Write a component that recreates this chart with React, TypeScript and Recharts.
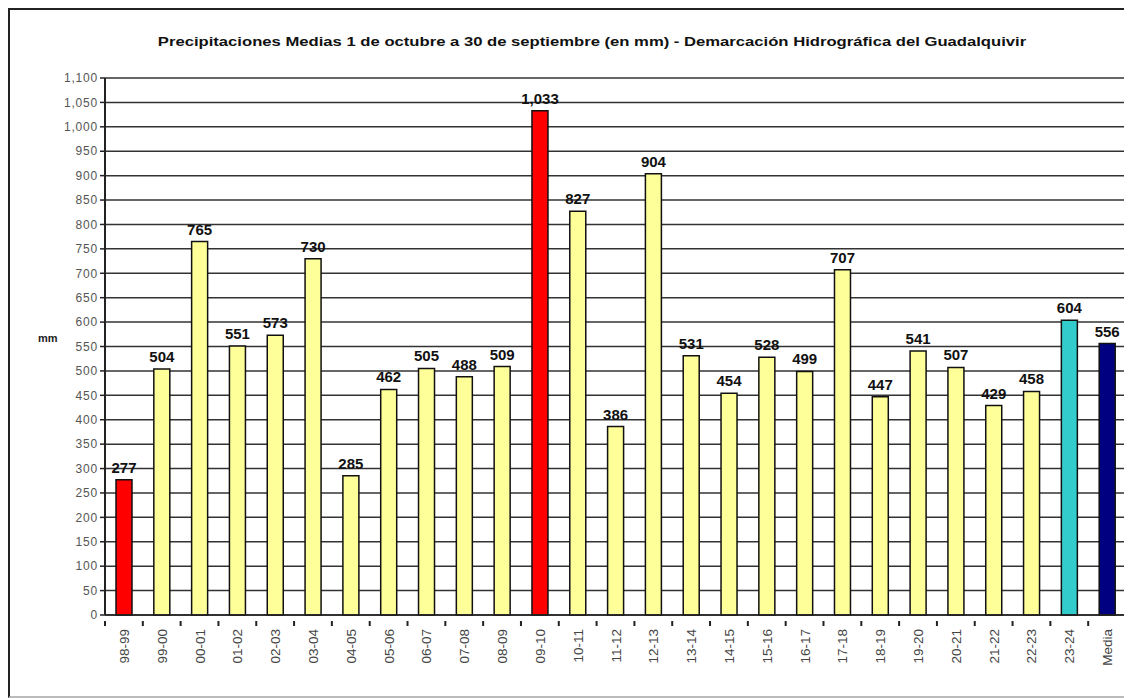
import React from "react";
import { BarChart, Bar, XAxis, YAxis, CartesianGrid, Cell, LabelList } from "recharts";

const seasons = [
  "98-99", "99-00", "00-01", "01-02", "02-03", "03-04", "04-05", "05-06", "06-07",
  "07-08", "08-09", "09-10", "10-11", "11-12", "12-13", "13-14", "14-15", "15-16",
  "16-17", "17-18", "18-19", "19-20", "20-21", "21-22", "22-23", "23-24", "Media",
];
const rainfall = [
  277, 504, 765, 551, 573, 730, 285, 462, 505, 488, 509, 1033, 827, 386, 904, 531,
  454, 528, 499, 707, 447, 541, 507, 429, 458, 604, 556,
];
const barColors = [
  "#FF0000", "#FFFF99", "#FFFF99", "#FFFF99", "#FFFF99", "#FFFF99", "#FFFF99",
  "#FFFF99", "#FFFF99", "#FFFF99", "#FFFF99", "#FF0000", "#FFFF99", "#FFFF99",
  "#FFFF99", "#FFFF99", "#FFFF99", "#FFFF99", "#FFFF99", "#FFFF99", "#FFFF99",
  "#FFFF99", "#FFFF99", "#FFFF99", "#FFFF99", "#33CCCC", "#000080",
];
const yTicks = Array.from({ length: 23 }, (_, i) => i * 50);

const data = seasons.map((s, i) => ({ season: s, mm: rainfall[i], color: barColors[i] }));

const CHART_W = 1124;
const CHART_H = 686;
const PLOT_LEFT = 95;
const PLOT_RIGHT = 8;
const BAND = (CHART_W - PLOT_LEFT - PLOT_RIGHT) / seasons.length;

const font = "'Liberation Sans', Arial, sans-serif";

const SeasonTick = (props: any) => {
  const { x, y, payload } = props;
  return (
    <g>
      <line x1={x - BAND / 2} x2={x - BAND / 2} y1={y - 2} y2={y + 3} stroke="#222" strokeWidth={2} />
      <text
        x={0}
        y={0}
        transform={`translate(${x + 5},${y + 6}) rotate(-90)`}
        textAnchor="end"
        fontSize={13.5}
        fill="#444"
        fontFamily={font}
      >
        {payload.value}
      </text>
    </g>
  );
};

const App: React.FC = () => {
  return (
    <div
      style={{
        position: "relative",
        width: CHART_W,
        height: CHART_H,
        borderTop: "2px solid #222",
        borderLeft: "2px solid #222",
        borderBottom: "2px solid #bbb",
        background: "#fff",
        fontFamily: font,
      }}
    >
      <div
        style={{
          position: "absolute",
          top: 24,
          left: 582,
          fontSize: 13,
          fontWeight: "bold",
          color: "#111",
          whiteSpace: "nowrap",
          transform: "translateX(-50%) scaleX(1.28)",
          transformOrigin: "50% 0",
        }}
      >
        Precipitaciones Medias 1 de octubre a 30 de septiembre (en mm) - Demarcación Hidrográfica del Guadalquivir
      </div>
      <div
        style={{
          position: "absolute",
          top: 322,
          left: 28,
          fontSize: 11,
          fontWeight: "bold",
          color: "#222",
        }}
      >
        mm
      </div>
      <BarChart
        width={CHART_W}
        height={CHART_H}
        data={data}
        margin={{ top: 68, right: PLOT_RIGHT, left: 0, bottom: 0 }}
        barCategoryGap={0}
      >
        <CartesianGrid vertical={false} stroke="#333" strokeWidth={1.5} />
        <XAxis
          dataKey="season"
          height={81}
          interval={0}
          tick={<SeasonTick />}
          tickLine={false}
          axisLine={{ stroke: "#222", strokeWidth: 1.5 }}
        />
        <YAxis
          width={PLOT_LEFT}
          domain={[0, 1100]}
          ticks={yTicks}
          interval={0}
          tickFormatter={(v: number) => v.toLocaleString("en-US")}
          tick={{ fontSize: 12, fill: "#555", fontFamily: font, letterSpacing: 0.8 }}
          tickLine={{ stroke: "#222", strokeWidth: 1.5 }}
          tickSize={5}
          axisLine={{ stroke: "#222", strokeWidth: 2 }}
        />
        <YAxis
          yAxisId="right"
          orientation="right"
          width={0}
          domain={[0, 1100]}
          tick={false}
          tickLine={false}
          axisLine={{ stroke: "#888", strokeWidth: 1.5 }}
        />
        <Bar dataKey="mm" barSize={16} stroke="#111" strokeWidth={1.5} isAnimationActive={false}>
          {data.map((d, i) => (
            <Cell key={`c-${i}`} fill={d.color} />
          ))}
          <LabelList
            dataKey="mm"
            position="top"
            offset={7}
            formatter={(v: any) => Number(v).toLocaleString("en-US")}
            style={{ fontSize: 15, fontWeight: "bold", fill: "#111", fontFamily: font }}
          />
        </Bar>
      </BarChart>
    </div>
  );
};

export default App;
